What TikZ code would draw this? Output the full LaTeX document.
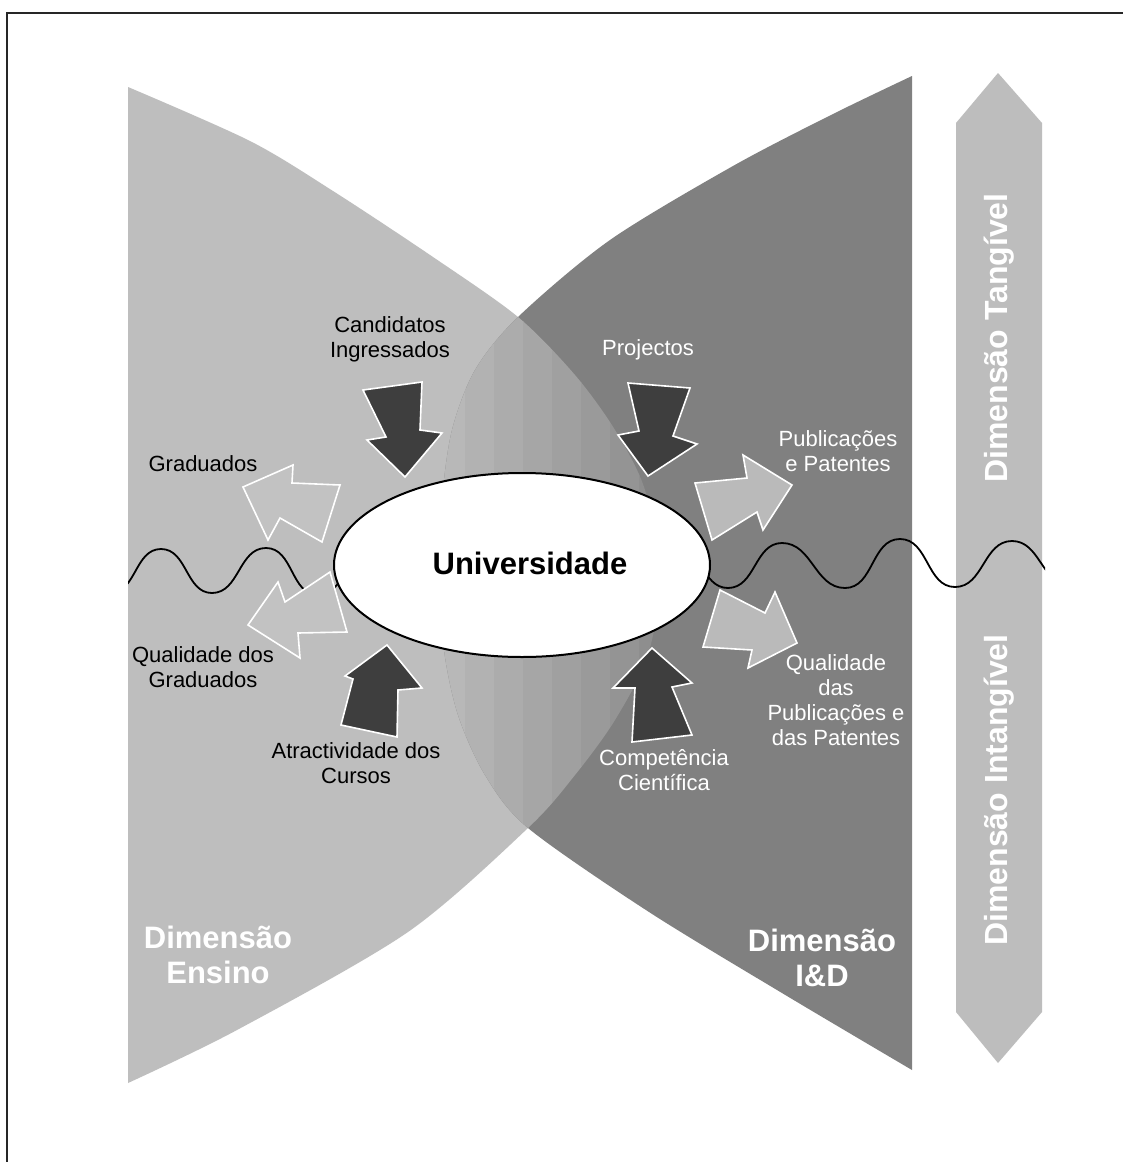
\documentclass[tikz,border=0pt]{standalone}
\usepackage{fontspec}
\setmainfont{Liberation Sans}
\usetikzlibrary{shapes.geometric}
\definecolor{lightbg}{HTML}{BEBEBE}
\definecolor{darkbg}{HTML}{808080}
\definecolor{barc}{HTML}{BDBDBD}
\definecolor{arrdark}{HTML}{3E3E3E}
\definecolor{arrlightL}{HTML}{C2C2C2}
\definecolor{arrlightR}{HTML}{BABABA}
\newcommand\leftshapepath{plot[smooth] coordinates {(128,87) (250,141) (333,191) (433,257) (518,317) (575,375) (615,430) (645,490) (660,575) (648,655) (615,720) (575,775) (528,828) (408,932) (237,1030) (128,1083)} -- cycle}
\newcommand\rightshapepath{plot[smooth] coordinates {(912,76) (833,114) (733,166) (610,240) (518,317) (475,370) (452,430) (442,500) (440,575) (444,650) (458,715) (485,775) (528,828) (649,912) (787,996) (912,1070)} -- cycle}
\tikzset{
  lbl/.style={font=\fontsize{22}{25}\selectfont, align=center, inner sep=0pt},
  biglbl/.style={font=\bfseries\fontsize{31}{35}\selectfont, align=center, inner sep=0pt, text=white},
  vlbl/.style={font=\bfseries\fontsize{32}{36}\selectfont, inner sep=0pt, text=white, rotate=90},
  darkarrow/.style={fill=arrdark, draw=white, line width=1.6pt, line join=miter},
  lightarrowL/.style={fill=arrlightL, draw=white, line width=1.6pt, line join=miter},
  lightarrowR/.style={fill=arrlightR, draw=white, line width=1.6pt, line join=miter},
  wave/.style={draw=black, line width=1.8pt}
}
\begin{document}
\begin{tikzpicture}[x=1pt,y=-1pt]
\useasboundingbox (0,0) rectangle (1123,1162);
\fill[white] (0,0) rectangle (1123,1162);
% frame
\draw[line width=2.2pt, black!85] (7,1163) -- (7,13) -- (1124,13);
% two dimension shapes
\fill[lightbg] \leftshapepath;
\fill[darkbg] \rightshapepath;
% overlap with banded gradient
\begin{scope}
  \clip \leftshapepath;
  \clip \rightshapepath;
  \foreach \i in {0,...,7}{
    \pgfmathtruncatemacro\g{184-6*\i}
    \definecolor{bandc}{RGB}{\g,\g,\g}
    \fill[bandc] ({436+29*\i},300) rectangle ({436+29*(\i+1)+0.5},860);
  }
\end{scope}
% vertical bar
\fill[barc] (956,123) -- (998,73) -- (1042,123) -- (1042,1012) -- (998,1063) -- (956,1012) -- cycle;
% wave line
\begin{scope}
  \clip (128,400) rectangle (1045,700);
  \draw[wave] (110,593) to[out=0,in=180] (161,549) to[out=0,in=180] (212,593)
    to[out=0,in=180] (266,548) to[out=0,in=180] (318,595) to[out=0,in=180] (372,550);
  \draw[wave] (675,545) to[out=0,in=180] (728,588) to[out=0,in=180] (782,543)
    to[out=0,in=180] (845,588) to[out=0,in=180] (900,539) to[out=0,in=180] (955,587)
    to[out=0,in=180] (1012,541) to[out=0,in=180] (1070,585);
\end{scope}
% arrows
\draw[darkarrow] (363,390) -- (422,382) -- (420,430) -- (442,433) -- (405,477) -- (367,440) -- (386,437) -- cycle;
\draw[darkarrow] (628,383) -- (690,388) -- (673,436) -- (697,444) -- (648,476) -- (618,435) -- (639,431) -- cycle;
\draw[darkarrow] (387,645) -- (422,688) -- (398,690) -- (397,737) -- (341,725) -- (353,679) -- (345,676) -- cycle;
\draw[darkarrow] (652,648) -- (692,683) -- (672,687) -- (692,735) -- (632,742) -- (635,688) -- (613,688) -- cycle;
\draw[lightarrowL] (243,487) -- (293,465) -- (292,483) -- (340,485) -- (322,542) -- (280,518) -- (268,540) -- cycle;
\draw[lightarrowL] (248,625) -- (278,582) -- (285,602) -- (330,572) -- (347,632) -- (298,633) -- (300,658) -- cycle;
\draw[lightarrowR] (695,483) -- (747,478) -- (743,455) -- (792,485) -- (763,530) -- (757,512) -- (712,540) -- cycle;
\draw[lightarrowR] (720,590) -- (765,613) -- (775,592) -- (797,643) -- (748,668) -- (752,650) -- (703,647) -- cycle;
% ellipse
\node[ellipse, draw=black, line width=2pt, fill=white, minimum width=376pt, minimum height=184pt, inner sep=0pt] (uni) at (522,565) {};
\node[font=\bfseries\fontsize{31}{35}\selectfont, inner sep=0pt] (unitext) at (530,563) {Universidade};
% labels
\node[lbl] (cand) at (390,339) {Candidatos\\Ingressados};
\node[lbl, text=white] (proj) at (648,350) {Projectos};
\node[lbl] (grad) at (203,464) {Graduados};
\node[lbl, text=white] (pub) at (838,451) {Publicações\\e Patentes};
\node[lbl] (qgrad) at (203,667) {Qualidade dos\\Graduados};
\node[lbl] (atr) at (356,763) {Atractividade dos\\Cursos};
\node[lbl, text=white] (comp) at (664,770) {Competência\\Científica};
\node[lbl, text=white] (qpub) at (836,700) {Qualidade\\das\\Publicações e\\das Patentes};
\node[biglbl] (dimE) at (218,955) {Dimensão\\Ensino};
\node[biglbl] (dimID) at (822,958) {Dimensão\\I\&D};
\node[vlbl] (tang) at (999,338) {Dimensão Tangível};
\node[vlbl] (intang) at (999,790) {Dimensão Intangível};
\end{tikzpicture}
\end{document}
